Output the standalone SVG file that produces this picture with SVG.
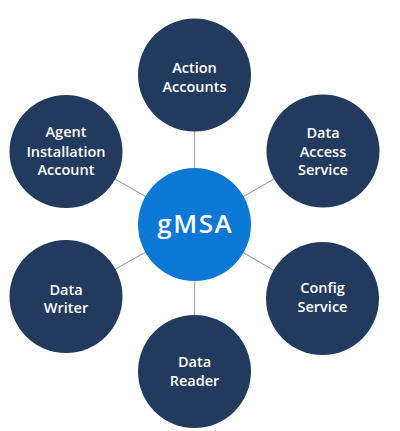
<svg xmlns="http://www.w3.org/2000/svg" width="400" height="431" viewBox="0 0 400 431">
<style>
.node{fill:#223A5E}
.hub{fill:#0A78D4}
.lbl{font-family:"Open Sans","Noto Sans",sans-serif;font-weight:600;font-size:14.5px;fill:#FFFFFF;text-anchor:middle}
.hubl{font-family:"Open Sans","Noto Sans",sans-serif;font-weight:600;font-size:26px;letter-spacing:1.5px;fill:#FFFFFF;text-anchor:middle}
.conn line{stroke:#A6A6A6;stroke-width:1.2}
</style>
<rect width="400" height="431" fill="#FFFFFF"/>
<g id="connectors" class="conn">
<line x1="194.5" y1="224.5" x2="194.5" y2="75"/>
<line x1="194.5" y1="224.5" x2="66" y2="151"/>
<line x1="194.5" y1="224.5" x2="323" y2="151"/>
<line x1="194.5" y1="224.5" x2="66" y2="297"/>
<line x1="194.5" y1="224.5" x2="322.5" y2="298.5"/>
<line x1="194.5" y1="224.5" x2="194.5" y2="371.5"/>
</g>
<g id="action-accounts">
<circle class="node" cx="194.5" cy="75" r="56.5"/>
<text class="lbl" x="194.5" y="73.3">Action</text>
<text class="lbl" x="194.5" y="91.7">Accounts</text>
</g>
<g id="agent-installation-account">
<circle class="node" cx="66" cy="151.5" r="56.5"/>
<text class="lbl" x="66" y="137">Agent</text>
<text class="lbl" x="66" y="157">Installation</text>
<text class="lbl" x="66" y="175">Account</text>
</g>
<g id="data-access-service">
<circle class="node" cx="323" cy="151" r="56.5"/>
<text class="lbl" x="323" y="138.3">Data</text>
<text class="lbl" x="323" y="156.7">Access</text>
<text class="lbl" x="323" y="175">Service</text>
</g>
<g id="gmsa">
<circle class="hub" cx="194.5" cy="224.5" r="56.5"/>
<text class="hubl" x="195.3" y="233.3">gMSA</text>
</g>
<g id="data-writer">
<circle class="node" cx="66" cy="296.5" r="56.5"/>
<text class="lbl" x="66" y="295">Data</text>
<text class="lbl" x="66" y="313.3">Writer</text>
</g>
<g id="config-service">
<circle class="node" cx="322.5" cy="298.5" r="56.5"/>
<text class="lbl" x="322.5" y="293.3">Config</text>
<text class="lbl" x="322.5" y="311.7">Service</text>
</g>
<g id="data-reader">
<circle class="node" cx="194.5" cy="371.5" r="56.5"/>
<text class="lbl" x="194.5" y="366.7">Data</text>
<text class="lbl" x="194.5" y="385.5">Reader</text>
</g>
</svg>
